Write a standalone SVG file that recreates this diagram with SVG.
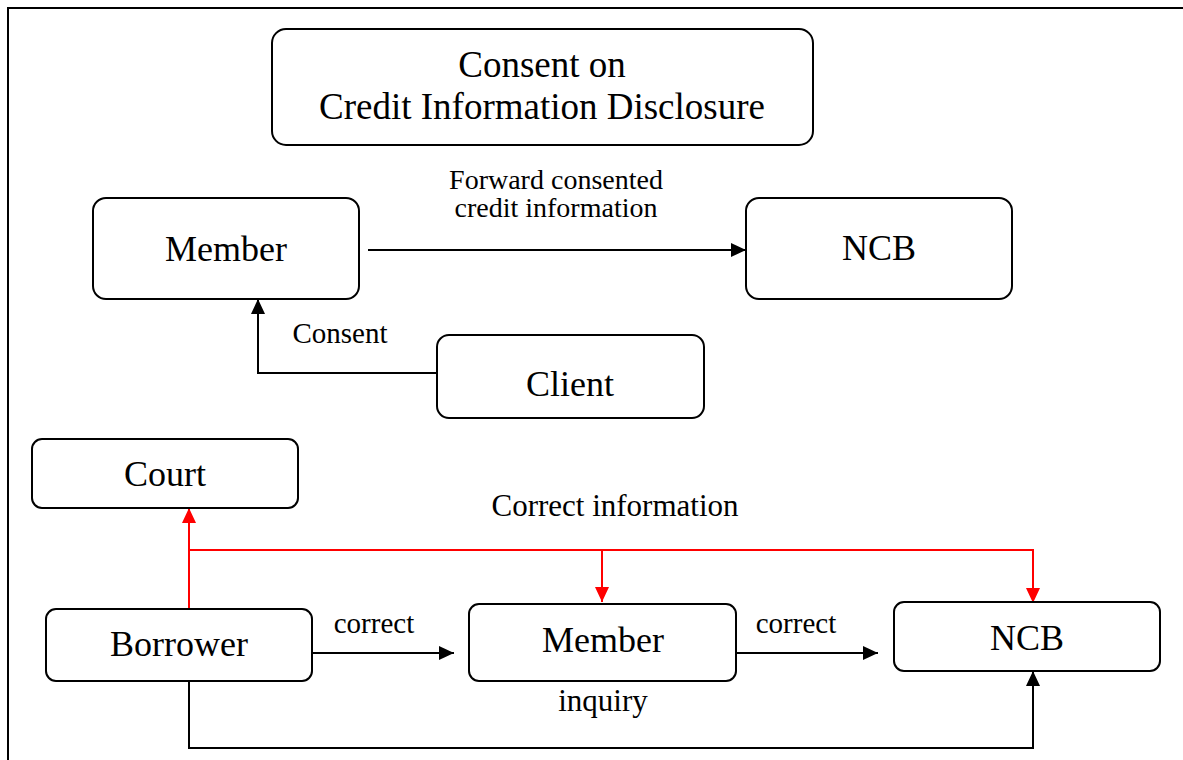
<svg xmlns="http://www.w3.org/2000/svg" width="1183" height="760" viewBox="0 0 1183 760">
<style>
.box{fill:#fff;stroke:#000;stroke-width:2}
.lbl{font-family:"Liberation Serif","Times New Roman",serif;font-size:36px;fill:#000;text-anchor:middle}
.ttl{font-family:"Liberation Serif","Times New Roman",serif;font-size:37px;fill:#000;text-anchor:middle}
.sm{font-family:"Liberation Serif","Times New Roman",serif;font-size:29px;fill:#000;text-anchor:middle}
.fw{font-family:"Liberation Serif","Times New Roman",serif;font-size:28px;fill:#000;text-anchor:middle}
.md{font-family:"Liberation Serif","Times New Roman",serif;font-size:31px;fill:#000;text-anchor:middle}
.k{fill:none;stroke:#000;stroke-width:2}
.r{fill:none;stroke:#f00;stroke-width:2}
</style>
<defs>
<marker id="ak" markerUnits="userSpaceOnUse" markerWidth="15" markerHeight="14" refX="15" refY="7" orient="auto"><path d="M0,0 L15,7 L0,14 z" fill="#000"/></marker>
<marker id="ar" markerUnits="userSpaceOnUse" markerWidth="15" markerHeight="14" refX="15" refY="7" orient="auto"><path d="M0,0 L15,7 L0,14 z" fill="#f00"/></marker>
</defs>
<rect x="0" y="0" width="1183" height="760" fill="#fff"/>
<rect x="8" y="8" width="1185" height="770" fill="none" stroke="#000" stroke-width="2"/>
<g id="connectors">
<path class="k" d="M368,250 H746" marker-end="url(#ak)"/>
<path class="k" d="M438,373 H258 V299" marker-end="url(#ak)"/>
<path class="r" d="M189,609 V508" marker-end="url(#ar)"/>
<path class="r" d="M189,550 H1033 V603" marker-end="url(#ar)"/>
<path class="r" d="M602,550 V602" marker-end="url(#ar)"/>
<path class="k" d="M312,653 H454" marker-end="url(#ak)"/>
<path class="k" d="M736,653 H878" marker-end="url(#ak)"/>
<path class="k" d="M189,681 V748 H1033 V671" marker-end="url(#ak)"/>
<text class="fw" x="556" y="189">Forward consented</text>
<text class="fw" x="556" y="217">credit information</text>
<text class="sm" x="340" y="343">Consent</text>
<text class="md" x="615" y="516">Correct information</text>
<text class="sm" x="374" y="633">correct</text>
<text class="sm" x="796" y="633">correct</text>
<text class="md" x="603" y="711">inquiry</text>
</g>
<g id="title">
<rect class="box" x="272" y="29" width="541" height="116" rx="14"/>
<text class="ttl" x="542" y="77">Consent on</text>
<text class="ttl" x="542" y="119">Credit Information Disclosure</text>
</g>
<g id="member-top">
<rect class="box" x="93" y="198" width="266" height="101" rx="13"/>
<text class="lbl" x="226" y="261">Member</text>
</g>
<g id="ncb-top">
<rect class="box" x="746" y="198" width="266" height="101" rx="13"/>
<text class="lbl" x="879" y="260">NCB</text>
</g>
<g id="client">
<rect class="box" x="437" y="335" width="267" height="83" rx="12"/>
<text class="lbl" x="570" y="396">Client</text>
</g>
<g id="court">
<rect class="box" x="32" y="439" width="266" height="69" rx="10"/>
<text class="lbl" x="165" y="486">Court</text>
</g>
<g id="borrower">
<rect class="box" x="46" y="609" width="266" height="72" rx="10"/>
<text class="lbl" x="179" y="656">Borrower</text>
</g>
<g id="member-bottom">
<rect class="box" x="469" y="604" width="267" height="77" rx="10"/>
<text class="lbl" x="603" y="652">Member</text>
</g>
<g id="ncb-bottom">
<rect class="box" x="894" y="602" width="266" height="69" rx="10"/>
<text class="lbl" x="1027" y="650">NCB</text>
</g>
</svg>
